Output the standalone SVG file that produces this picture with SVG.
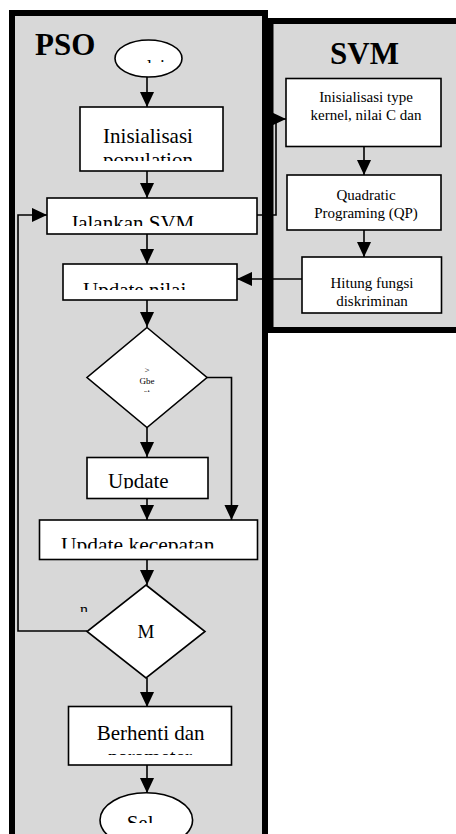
<svg xmlns="http://www.w3.org/2000/svg" width="456" height="834" viewBox="0 0 456 834">
<style>
.panel{fill:#d8d8d8;stroke:#000;stroke-width:6}
.box{fill:#fff;stroke:#000;stroke-width:1.6}
.ln{fill:none;stroke:#000;stroke-width:1.6}
.t{font-family:"Liberation Serif","Times New Roman",serif;fill:#000}
.s{font-family:"Liberation Serif","Times New Roman",serif;fill:#000;font-size:15px;text-anchor:middle}
.title{font-family:"Liberation Serif","Times New Roman",serif;font-weight:bold;font-size:31px;fill:#000}
</style>
<defs>
<marker id="ah2" viewBox="0 0 10 10" refX="10" refY="5" markerWidth="15" markerHeight="15" markerUnits="userSpaceOnUse" orient="auto">
<path d="M0,0.3 L10,5 L0,9.7 z" fill="#000"/>
</marker>
<clipPath id="cStart"><rect x="140" y="40" width="40" height="23"/></clipPath>
<clipPath id="cInit"><rect x="81" y="108" width="141" height="53"/></clipPath>
<clipPath id="cJal"><rect x="48" y="199" width="208" height="27"/></clipPath>
<clipPath id="cUpn"><rect x="64" y="265" width="172" height="25"/></clipPath>
<clipPath id="cGb"><rect x="100" y="340" width="94" height="52"/></clipPath>
<clipPath id="cUpd"><rect x="88" y="458" width="119" height="30.5"/></clipPath>
<clipPath id="cUpk"><rect x="40" y="521" width="216" height="27.5"/></clipPath>
<clipPath id="cN"><rect x="70" y="600" width="30" height="12"/></clipPath>
<clipPath id="cBer"><rect x="69" y="707" width="162" height="48"/></clipPath>
<clipPath id="cSel"><rect x="100" y="793" width="92" height="30"/></clipPath>
</defs>

<g id="pso-panel">
<rect class="panel" x="12" y="13" width="253" height="824"/>
<text class="title" x="35" y="55">PSO</text>
</g>
<g id="svm-panel">
<rect class="panel" x="270.5" y="21" width="200" height="309"/>
<text class="title" x="330" y="64">SVM</text>
</g>

<g id="connectors">
<line class="ln" x1="147" y1="77" x2="147" y2="107" marker-end="url(#ah2)"/>
<line class="ln" x1="147" y1="171" x2="147" y2="198" marker-end="url(#ah2)"/>
<line class="ln" x1="147" y1="234" x2="147" y2="264" marker-end="url(#ah2)"/>
<line class="ln" x1="147" y1="300" x2="147" y2="327" marker-end="url(#ah2)"/>
<line class="ln" x1="147" y1="427" x2="147" y2="457" marker-end="url(#ah2)"/>
<line class="ln" x1="147" y1="498" x2="147" y2="520" marker-end="url(#ah2)"/>
<polyline class="ln" points="207,377.5 231.5,377.5 231.5,520" marker-end="url(#ah2)"/>
<line class="ln" x1="147" y1="559" x2="147" y2="585" marker-end="url(#ah2)"/>
<line class="ln" x1="147" y1="678" x2="147" y2="707" marker-end="url(#ah2)"/>
<line class="ln" x1="147" y1="765" x2="147" y2="793" marker-end="url(#ah2)"/>
<polyline class="ln" points="87,631 18,631 18,215 47,215" marker-end="url(#ah2)"/>
<polyline class="ln" points="257,215 276,215 276,119 286,119" marker-end="url(#ah2)"/>
<line class="ln" x1="364" y1="147" x2="364" y2="175" marker-end="url(#ah2)"/>
<line class="ln" x1="364" y1="230" x2="364" y2="257" marker-end="url(#ah2)"/>
<line class="ln" x1="302" y1="279" x2="237" y2="279" marker-end="url(#ah2)"/>
</g>

<g id="start">
<ellipse cx="148.5" cy="58.5" rx="33.5" ry="18.5" fill="#fff" stroke="#000" stroke-width="1.6"/>
<text class="t" x="122" y="72.5" font-size="18" clip-path="url(#cStart)">Mulai</text>
</g>
<g id="init-pop">
<rect class="box" x="80" y="107" width="143" height="64"/>
<g clip-path="url(#cInit)">
<text class="t" x="148" y="142.7" font-size="21" text-anchor="middle">Inisialisasi</text>
<text class="t" x="148" y="166.5" font-size="21" text-anchor="middle">population</text>
</g>
</g>
<g id="jalankan">
<rect class="box" x="47" y="198" width="210" height="36"/>
<text class="t" x="70" y="230" font-size="21" clip-path="url(#cJal)">Jalankan SVM</text>
</g>
<g id="update-nilai">
<rect class="box" x="63" y="264" width="174" height="36"/>
<text class="t" x="83" y="296.6" font-size="21" clip-path="url(#cUpn)">Update nilai</text>
</g>
<g id="cond-gbest">
<polygon class="box" points="147,327.5 207,377.5 147,427.5 87,377.5"/>
<g clip-path="url(#cGb)">
<text class="t" x="147" y="373" font-size="9" text-anchor="middle">&gt;</text>
<text class="t" x="147" y="384" font-size="9" text-anchor="middle">Gbe</text>
<text class="t" x="147" y="394.5" font-size="9" text-anchor="middle">st</text>
</g>
</g>
<g id="update">
<rect class="box" x="87" y="457.5" width="121" height="41"/>
<text class="t" x="108" y="488.3" font-size="21" clip-path="url(#cUpd)">Update</text>
</g>
<g id="update-kecepatan">
<rect class="box" x="39.5" y="520" width="218" height="39.5"/>
<text class="t" x="61" y="551.7" font-size="21.5" clip-path="url(#cUpk)">Update kecepatan</text>
</g>
<g id="cond-max">
<polygon class="box" points="146,585 205,631.5 146,678 87,631.5"/>
<text class="t" x="146" y="638" font-size="19" text-anchor="middle">M</text>
<text class="t" x="80" y="615.2" font-size="16" clip-path="url(#cN)">n</text>
</g>
<g id="berhenti">
<rect class="box" x="68.5" y="706.5" width="163" height="58.5"/>
<g clip-path="url(#cBer)">
<text class="t" x="96.7" y="740" font-size="21">Berhenti dan</text>
<text class="t" x="150" y="764" font-size="21" text-anchor="middle">parameter</text>
</g>
</g>
<g id="selesai">
<ellipse cx="146.3" cy="820" rx="46.3" ry="27.3" fill="#fff" stroke="#000" stroke-width="1.6"/>
<text class="t" x="126.7" y="830" font-size="21" clip-path="url(#cSel)">Sel</text>
</g>

<g id="svm-init">
<rect class="box" x="286" y="78.5" width="155" height="68"/>
<text class="s" x="366" y="102">Inisialisasi type</text>
<text class="s" x="366" y="120">kernel, nilai C dan</text>
</g>
<g id="svm-qp">
<rect class="box" x="287" y="175" width="154" height="55"/>
<text class="s" x="366" y="200">Quadratic</text>
<text class="s" x="366" y="218">Programing (QP)</text>
</g>
<g id="svm-hitung">
<rect class="box" x="302" y="257" width="139.5" height="56"/>
<text class="s" x="372" y="288">Hitung fungsi</text>
<text class="s" x="372" y="306">diskriminan</text>
</g>
</svg>
